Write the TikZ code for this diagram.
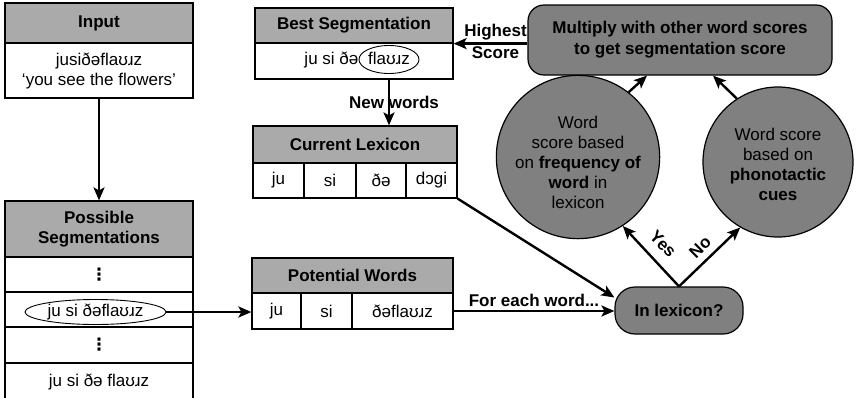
\documentclass[tikz,border=0pt]{standalone}
\usepackage{fontspec}
\setmainfont{Liberation Sans}
\newfontfamily\djv{DejaVu Sans}
\usetikzlibrary{arrows.meta,calc,shapes.geometric}
\definecolor{hdrgray}{RGB}{170,170,170}
\definecolor{dkgray}{RGB}{128,128,128}
\begin{document}
\begin{tikzpicture}[x=1pt,y=-1pt,
 font=\fontsize{17}{20}\selectfont,
 cell/.style={draw, line width=1.2pt, inner sep=0pt, align=center, fill=white},
 hdr/.style={cell, fill=hdrgray, font=\fontsize{17}{20}\selectfont\bfseries},
 arr/.style={line width=2.4pt, -{Stealth[length=13pt,width=11pt,inset=3pt]}},
 bub/.style={draw, line width=1.2pt, fill=dkgray, circle, align=center, inner sep=0pt, minimum size=152pt},
 rbox/.style={draw, line width=1.2pt, fill=dkgray, rounded corners=18pt, align=center, font=\fontsize{17}{21}\selectfont\bfseries, inner sep=0pt},
 lab/.style={font=\fontsize{17}{20}\selectfont\bfseries, inner sep=1pt},
 oval/.style={draw, ellipse, line width=0.9pt, inner sep=0pt, text height=12.5pt, text depth=3.5pt},
 plain/.style={inner sep=0pt, text height=12.5pt, text depth=3.5pt},
 vd/.style={font=\djv\bfseries\fontsize{17}{20}\selectfont}
]
\useasboundingbox (0,0) rectangle (856,397);

% Input
\node[hdr, minimum width=188pt, minimum height=40pt] (inH) at (99,23) {Input};
\node[cell, minimum width=188pt, minimum height=55pt] (inB) at (99,70.5) {jusiðəflaʊɹz\\‘you see the flowers’};

% Possible segmentations
\node[hdr, minimum width=188pt, minimum height=56pt] (psH) at (99,229) {Possible\\Segmentations};
\node[cell, minimum width=188pt, minimum height=35pt, vd] (ps1) at (99,274.5) {⋮};
\node[cell, minimum width=188pt, minimum height=35pt] (ps2) at (99,309.5) {};
\node[cell, minimum width=188pt, minimum height=36pt, vd] (ps3) at (99,345) {⋮};
\node[cell, minimum width=188pt, minimum height=37pt] (ps4) at (99,381.5) {ju si ðə flaʊɹz};
\node[oval, minimum width=141pt, minimum height=25pt] (seg) at (95.5,312) {ju si ðəflaʊɹz};

% Potential words
\node[hdr, minimum width=201pt, minimum height=35pt] (pwH) at (352.5,275.5) {Potential Words};
\node[cell, minimum width=49pt, minimum height=36pt] (pw1) at (276.5,311) {ju};
\node[cell, minimum width=51pt, minimum height=36pt] (pw2) at (326.5,311) {si};
\node[cell, minimum width=101pt, minimum height=36pt] (pw3) at (402.5,311) {ðəflaʊɹz};

% Current lexicon
\node[hdr, minimum width=204pt, minimum height=37pt] (clH) at (355,144.5) {Current Lexicon};
\node[cell, minimum width=51pt, minimum height=35pt] (cl1) at (278.5,180.5) {ju};
\node[cell, minimum width=52pt, minimum height=35pt] (cl2) at (330,180.5) {si};
\node[cell, minimum width=50pt, minimum height=35pt] (cl3) at (381,180.5) {ðə};
\node[cell, minimum width=51pt, minimum height=35pt] (cl4) at (431.5,180.5) {dɔgi};

% Best segmentation
\node[hdr, minimum width=198pt, minimum height=35pt] (bsH) at (354,25.5) {Best Segmentation};
\node[cell, minimum width=198pt, minimum height=36pt] (bsB) at (354,61) {};
\node[oval, minimum width=60pt, minimum height=28pt] (fl) at (389,59.5) {flaʊɹz};
\node[plain, anchor=east] (jsd) at (fl.west) {ju si ðə};

% Right side
\node[rbox, minimum width=304pt, minimum height=70pt, rounded corners=16pt] (mult) at (680,40) {Multiply with other word scores\\to get segmentation score};
\node[bub] (c1) at (578,157) {\rule{0pt}{24pt}Word\\score based\\on \textbf{frequency of}\\\textbf{word} in\\lexicon};
\node[bub, minimum size=150pt] (c2) at (778,162) {\rule{0pt}{18pt}Word score\\based on\\\textbf{phonotactic}\\\textbf{cues}};
\node[rbox, minimum width=128pt, minimum height=47pt, rounded corners=20pt] (lex) at (679,310.5) {In lexicon?};

% Connectors
\draw[arr] (inB.south) -- (psH.north);
\draw[arr] (seg.east) -- (seg.east -| pw1.west);
\draw[arr] (pw3.east) -- node[lab, above=2pt] {For each word...} (pw3.east -| lex.west);
\draw[arr] (cl4.south east) -- ($(lex.west)+(0,-13)$);
\draw[arr] (bsB.south -| fl) -- node[lab, xshift=5pt] {New words} (clH.north -| fl);
\draw[arr] (mult.west |- bsH.south east) -- node[lab, above=1pt, xshift=5pt] {Highest} node[lab, below=1pt, xshift=5pt] {Score} (bsH.south east);
\draw[arr] (c1.52) -- ($(mult.south)+(-33,0)$);
\draw[arr] (c2.123) -- ($(mult.south)+(33,0)$);
\draw[arr] (lex.north) -- (c1.-57);
\draw[arr] (lex.north) -- (c2.-120);
\node[lab, rotate=-45] (yes) at (663,244) {Yes};
\node[lab, rotate=45] (no) at (700,247) {No};
\end{tikzpicture}
\end{document}
